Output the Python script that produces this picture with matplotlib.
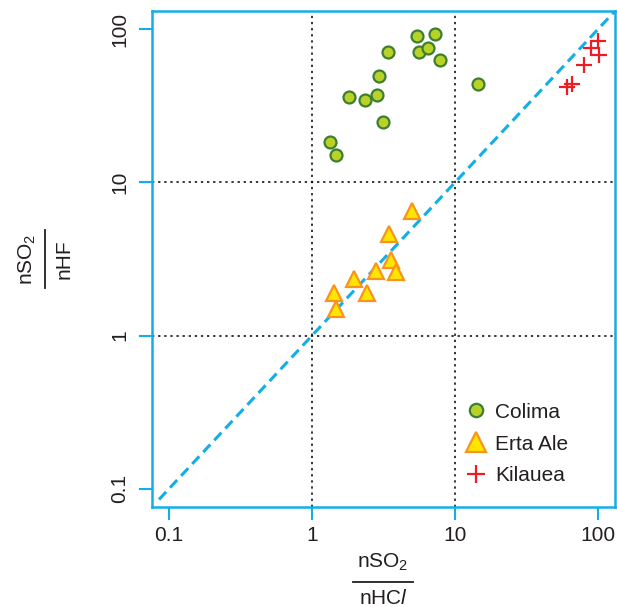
import matplotlib
matplotlib.use('Agg')
import matplotlib.pyplot as plt
from matplotlib.lines import Line2D

plt.rcParams['font.family'] = ['Liberation Sans', 'DejaVu Sans']
plt.rcParams['mathtext.fontset'] = 'custom'
plt.rcParams['mathtext.rm'] = 'Liberation Sans'
plt.rcParams['mathtext.it'] = 'Liberation Sans:italic'

# ratios: x = nSO2/nHCl, y = nSO2/nHF
colima_x = [5.43, 7.23, 3.38, 5.61, 6.49, 7.85, 2.92, 14.4, 1.82, 2.34, 2.86, 3.15, 1.34, 1.46]
colima_y = [90.8, 93.2, 71.4, 71.4, 75.1, 63.3, 49.7, 44.1, 36.3, 34.7, 37.0, 24.7, 18.3, 15.1]

erta_x = [5.01, 3.44, 3.55, 3.85, 2.79, 1.97, 2.44, 1.43, 1.46]
erta_y = [6.49, 4.63, 3.11, 2.59, 2.63, 2.33, 1.91, 1.89, 1.49]

kilauea_x = [100.7, 89.3, 101.6, 79.4, 66.4, 61.2]
kilauea_y = [84.2, 75.5, 68.2, 58.2, 43.9, 42.2]

ticks = [0.1, 1, 10, 100]
tick_labels = ['0.1', '1', '10', '100']
grid_at = [1, 10]

BLUE = '#12aee8'
W, H = 617, 607


def fx(px):
    return px / W


def fy(py):
    return 1 - py / H


fig = plt.figure(figsize=(6.17, 6.07), dpi=100)
ax = fig.add_axes([fx(152), fy(507), fx(615) - fx(152), fy(11) - fy(507)])
ax.set_xscale('log')
ax.set_yscale('log')
ax.set_xlim(0.0759, 131.8)
ax.set_ylim(0.0759, 131.8)

for g in grid_at:
    ax.axvline(g, color='black', lw=1.1, linestyle=(0, (1.5, 2.5)), zorder=1)
    ax.axhline(g, color='black', lw=1.1, linestyle=(0, (1.5, 2.5)), zorder=1)

ax.plot([0.085, 140], [0.085, 140], color=BLUE, lw=2.2,
        linestyle=(0, (3.4, 1.9)), zorder=2)

ax.plot(colima_x, colima_y, 'o', ms=8.6, mfc='#b8d22a', mec='#3e7f2f', mew=1.6,
        linestyle='none', label='Colima', zorder=3)
ax.plot(erta_x, erta_y, '^', ms=11.5, mfc='#ffe500', mec='#f7941d', mew=1.6,
        linestyle='none', label='Erta Ale', zorder=3)
ax.plot(kilauea_x, kilauea_y, '+', ms=11.5, mec='#ed1c24', mew=1.6,
        linestyle='none', label='Kilauea', zorder=3)

for s in ax.spines.values():
    s.set_color(BLUE)
    s.set_linewidth(1.8)

ax.set_xticks(ticks)
ax.set_xticklabels(tick_labels)
ax.set_yticks(ticks)
ax.set_yticklabels(tick_labels, rotation=90, va='center')
ax.minorticks_off()
ax.tick_params(axis='both', length=9.5, width=1.5, color=BLUE, labelsize=15,
               labelcolor='#231f20')
ax.tick_params(axis='x', pad=4)
ax.tick_params(axis='y', pad=7)

leg = ax.legend(loc='center left', bbox_to_anchor=(fx(466), fy(444)),
                bbox_transform=fig.transFigure, frameon=False, fontsize=15,
                handlelength=1.0, handletextpad=0.4, borderpad=0,
                borderaxespad=0, labelspacing=0.62)
for t in leg.get_texts():
    t.set_color('#231f20')
# legend symbols are drawn a bit larger than the points
for h, size in zip(leg.legend_handles, [9.6, 15, 13.5]):
    h.set_markersize(size)

# axis labels written as fractions
fig.text(fx(383), fy(568), 'nSO$_\\mathrm{2}$', fontsize=15, ha='center',
         va='baseline', color='#231f20')
fig.text(fx(383), fy(604), 'nHC$\\mathit{l}$', fontsize=15, ha='center',
         va='baseline', color='#231f20')
fig.add_artist(Line2D([fx(353), fx(413)], [fy(582), fy(582)], color='#231f20',
                      lw=1.3, transform=fig.transFigure))

fig.text(fx(33), fy(259), 'nSO$_\\mathrm{2}$', fontsize=15, ha='center',
         va='baseline', rotation=90, rotation_mode='anchor', color='#231f20')
fig.text(fx(70), fy(259), 'nHF', fontsize=15, ha='center',
         va='baseline', rotation=90, rotation_mode='anchor', color='#231f20')
fig.add_artist(Line2D([fx(45), fx(45)], [fy(230), fy(288)], color='#231f20',
                      lw=1.3, transform=fig.transFigure))

fig.savefig('out.png', dpi=100)
